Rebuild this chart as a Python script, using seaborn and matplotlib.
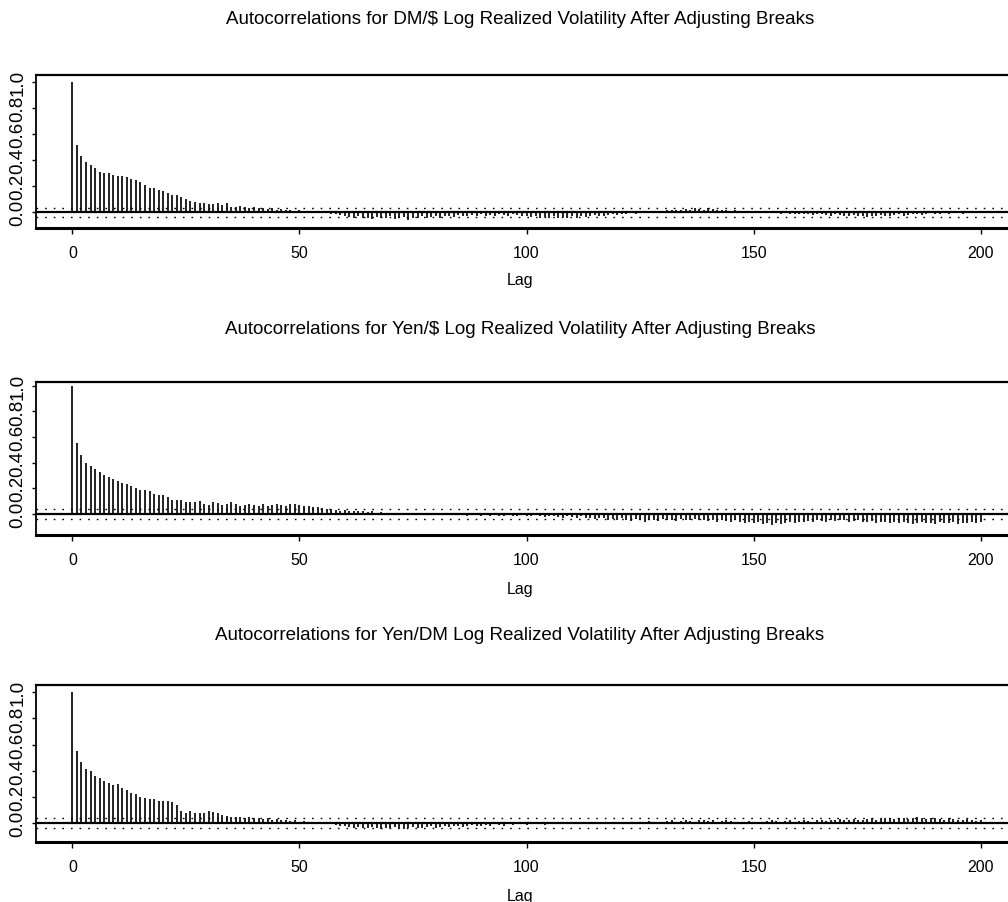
import matplotlib
matplotlib.use("Agg")
import matplotlib.pyplot as plt
import seaborn as sns
import numpy as np

# ---------------- data ----------------
titles = [
    "Autocorrelations for DM/\\$ Log Realized Volatility After Adjusting Breaks",
    "Autocorrelations for Yen/\\$ Log Realized Volatility After Adjusting Breaks",
    "Autocorrelations for Yen/DM Log Realized Volatility After Adjusting Breaks",
]
x_ticks = [0, 50, 100, 150, 200]
y_ticks = [0.0, 0.2, 0.4, 0.6, 0.8, 1.0]
y_tick_labels = ["0.0", "0.2", "0.4", "0.6", "0.8", "1.0"]
conf_band = [0.036, 0.038, 0.036]

acf_dm_usd = [
    1.0, 0.52, 0.43, 0.385, 0.36, 0.34, 0.31, 0.30, 0.30, 0.29, 0.28, 0.28, 0.275, 0.26, 0.25, 0.235,
    0.21, 0.19, 0.19, 0.17, 0.165, 0.145, 0.13, 0.13, 0.12, 0.10, 0.09, 0.08, 0.07, 0.07, 0.065, 0.065,
    0.07, 0.06, 0.075, 0.045,
    0.04, 0.05, 0.04, 0.03, 0.045, 0.035, 0.03, 0.025, 0.03, 0.02, 0.025, 0.015, 0.02, 0.01, 0.015, 0.01,
    0.005, 0.01, 0.0, -0.005, 0.005, -0.01, -0.015, -0.02,
    -0.03, -0.035, -0.04, -0.03, -0.045, -0.04, -0.05, -0.035, -0.04, -0.045, -0.03, -0.05, -0.04, -0.035,
    -0.055, -0.04, -0.045, -0.03, -0.04, -0.035, -0.03, -0.04, -0.025, -0.03, -0.035, -0.02, -0.03, -0.025,
    -0.02, -0.03, -0.015, -0.025, -0.02, -0.03, -0.01, -0.02, -0.025, -0.015, -0.02, -0.03,
    -0.025, -0.035, -0.03, -0.04, -0.035, -0.045, -0.03, -0.04, -0.035, -0.045, -0.03, -0.04, -0.025, -0.035,
    -0.03, -0.02, -0.03, -0.025, -0.02, -0.015, -0.02, -0.01, -0.015, -0.005, -0.01, 0.0, -0.005, 0.005,
    0.01, 0.005,
    0.01, 0.015, 0.02, 0.015, 0.02, 0.025, 0.02, 0.03, 0.025, 0.02, 0.03, 0.025, 0.02, 0.015, 0.02, 0.01,
    0.015, 0.01, 0.005, 0.01, 0.005, 0.0, 0.005, -0.005, 0.0, -0.005, -0.01, -0.005, -0.01, -0.015, -0.01,
    -0.015, -0.01, -0.02, -0.015, -0.01, -0.02, -0.025, -0.015, -0.02, -0.025, -0.03, -0.02, -0.025, -0.03,
    -0.035, -0.025, -0.03, -0.02, -0.025, -0.03, -0.02, -0.015, -0.025, -0.02, -0.01, -0.015, -0.02, -0.01,
    -0.005, -0.01, -0.015, -0.005, -0.01, 0.0, -0.005, -0.01, 0.0, -0.005, 0.005, 0.0,
]

acf_yen_usd = [
    1.0, 0.55, 0.46, 0.395, 0.375, 0.35, 0.33, 0.30, 0.285, 0.27, 0.26, 0.24, 0.235, 0.22, 0.20, 0.19,
    0.19, 0.18, 0.155, 0.15, 0.145, 0.13, 0.11, 0.105, 0.105, 0.095, 0.09, 0.09, 0.10, 0.08, 0.07, 0.09,
    0.085, 0.07, 0.08, 0.09, 0.08,
    0.065, 0.07, 0.08, 0.07, 0.06, 0.075, 0.065, 0.07, 0.08, 0.07, 0.065, 0.075, 0.08, 0.07, 0.06, 0.065,
    0.055, 0.05, 0.045, 0.04, 0.035, 0.03, 0.025,
    0.03, 0.025, 0.02, 0.025, 0.02, 0.015, 0.02, 0.01, 0.015, 0.01, 0.005, 0.01, 0.0, 0.005, 0.01, 0.0,
    -0.005, 0.005, 0.0, -0.005, -0.01, 0.0, -0.005, -0.01, -0.005, 0.0, -0.01, -0.015, -0.005, -0.01,
    -0.015, -0.01, -0.02, -0.01, -0.015, -0.02, -0.01, -0.015, -0.02, -0.01,
    -0.015, -0.02, -0.01, -0.02, -0.025, -0.015, -0.02, -0.025, -0.03, -0.02, -0.025, -0.03, -0.02, -0.03,
    -0.035, -0.04, -0.03, -0.035, -0.045, -0.04, -0.05, -0.035, -0.045, -0.055, -0.04, -0.05, -0.06, -0.045,
    -0.05, -0.055,
    -0.04, -0.05, -0.045, -0.055, -0.04, -0.05, -0.045, -0.04, -0.05, -0.045, -0.055, -0.05, -0.06, -0.045,
    -0.055, -0.065, -0.05, -0.06, -0.07, -0.06, -0.075, -0.065, -0.08, -0.07, -0.085, -0.07, -0.08, -0.075,
    -0.065, -0.07, -0.06,
    -0.065, -0.055, -0.06, -0.05, -0.055, -0.06, -0.05, -0.055, -0.045, -0.05, -0.06, -0.055, -0.05, -0.06,
    -0.065, -0.055, -0.07, -0.06, -0.065, -0.075, -0.06, -0.07, -0.065, -0.075, -0.08, -0.07, -0.065, -0.075,
    -0.07, -0.08, -0.06, -0.07, -0.075, -0.065, -0.08, -0.07, -0.075, -0.06, -0.07, -0.065,
]

acf_yen_dm = [
    1.0, 0.55, 0.47, 0.41, 0.40, 0.36, 0.345, 0.32, 0.305, 0.29, 0.295, 0.27, 0.25, 0.23, 0.22, 0.20,
    0.19, 0.185, 0.185, 0.165, 0.17, 0.165, 0.16, 0.14, 0.095, 0.08, 0.09, 0.08, 0.075, 0.08, 0.095, 0.085,
    0.08, 0.065, 0.055, 0.05, 0.05,
    0.045, 0.04, 0.045, 0.035, 0.04, 0.03, 0.035, 0.025, 0.03, 0.02, 0.025, 0.015, 0.02, 0.01, 0.015, 0.005,
    0.01, 0.0, -0.005, -0.01, -0.005, -0.015, -0.02,
    -0.025, -0.03, -0.035, -0.03, -0.04, -0.035, -0.03, -0.04, -0.045, -0.035, -0.04, -0.03, -0.035, -0.045,
    -0.04, -0.03, -0.035, -0.04, -0.03, -0.025, -0.035, -0.03, -0.025, -0.03, -0.02, -0.025, -0.03, -0.02,
    -0.015, -0.025, -0.02, -0.015, -0.02, -0.01, -0.015, -0.02, -0.01, -0.015, -0.005, -0.01,
    -0.015, -0.01, -0.005, -0.01, -0.015, -0.005, -0.01, -0.005, 0.0, -0.005, -0.01, 0.0, -0.005, 0.0,
    0.005, -0.005, 0.0, 0.005, 0.0, 0.005, 0.01, 0.005, 0.0, 0.005, 0.01, 0.005, 0.01, 0.015, 0.005, 0.01,
    0.01, 0.015, 0.02, 0.01, 0.015, 0.02, 0.015, 0.01, 0.02, 0.025, 0.015, 0.02, 0.01, 0.015, 0.02, 0.015,
    0.01, 0.005, 0.01, 0.015, 0.01, 0.005, 0.01, 0.015, 0.02, 0.015, 0.01, 0.015, 0.02, 0.01, 0.015,
    0.02, 0.015, 0.01, 0.02, 0.025, 0.015, 0.02, 0.025, 0.03, 0.02, 0.025, 0.03, 0.025, 0.02, 0.03, 0.035,
    0.025, 0.03, 0.04, 0.035, 0.03, 0.04, 0.035, 0.03, 0.04, 0.045, 0.035, 0.03, 0.04, 0.035, 0.03, 0.025,
    0.035, 0.03, 0.02, 0.025, 0.03, 0.02, 0.015, 0.02,
]

series = [acf_dm_usd, acf_yen_usd, acf_yen_dm]
ylims = [(-0.12, 1.055), (-0.165, 1.03), (-0.145, 1.056)]

# ---------------- layout (pixels of the 1008x903 figure) ----------------
W, H = 1008, 903
axes_px = [(76, 229), (383, 536), (686, 843)]
title_y = [20, 330, 636]
lag_y = [280, 590, 897]
left_px = 36

sns.set_theme(style="ticks")
plt.rcParams["font.family"] = ["Liberation Sans", "DejaVu Sans"]
plt.rcParams["text.color"] = "black"
plt.rcParams["xtick.color"] = "black"
plt.rcParams["ytick.color"] = "black"
plt.rcParams["axes.labelcolor"] = "black"

fig = plt.figure(figsize=(W / 100, H / 100), dpi=100)

for i, vals in enumerate(series):
    top, bot = axes_px[i]
    ax = fig.add_axes([left_px / W, 1 - bot / H, 1 - left_px / W, (bot - top) / H])
    lags = np.arange(len(vals))
    ax.vlines(lags, 0, vals, color="#111111", linewidth=1.3)
    ax.axhline(0, color="black", linewidth=1.6)
    ax.axhline(conf_band[i], color="black", linewidth=1.0, linestyle=(0, (1.2, 5)))
    ax.axhline(-conf_band[i], color="black", linewidth=1.0, linestyle=(0, (1.2, 5)))
    ax.set_xlim(-8, 206)
    ax.set_ylim(*ylims[i])
    ax.set_xticks(x_ticks)
    ax.set_xticklabels([str(t) for t in x_ticks], fontsize=11.5)
    ax.set_yticks(y_ticks)
    ax.set_yticklabels(y_tick_labels, rotation=90, va="center", fontsize=13.5)
    ax.tick_params(axis="x", length=4, width=1, pad=8, direction="out")
    ax.tick_params(axis="y", length=3, width=1, pad=4, direction="out")
    ax.spines["right"].set_visible(False)
    ax.spines["top"].set_linewidth(1.6)
    ax.spines["bottom"].set_linewidth(2.2)
    ax.spines["left"].set_linewidth(1.3)
    for s in ax.spines.values():
        s.set_color("black")
    ax.grid(False)
    fig.text(520 / W, 1 - title_y[i] / H, titles[i], ha="center", va="center", fontsize=13.5)
    fig.text(520 / W, 1 - lag_y[i] / H, "Lag", ha="center", va="center", fontsize=11.5)

fig.savefig("out.png", dpi=100, facecolor="white")
